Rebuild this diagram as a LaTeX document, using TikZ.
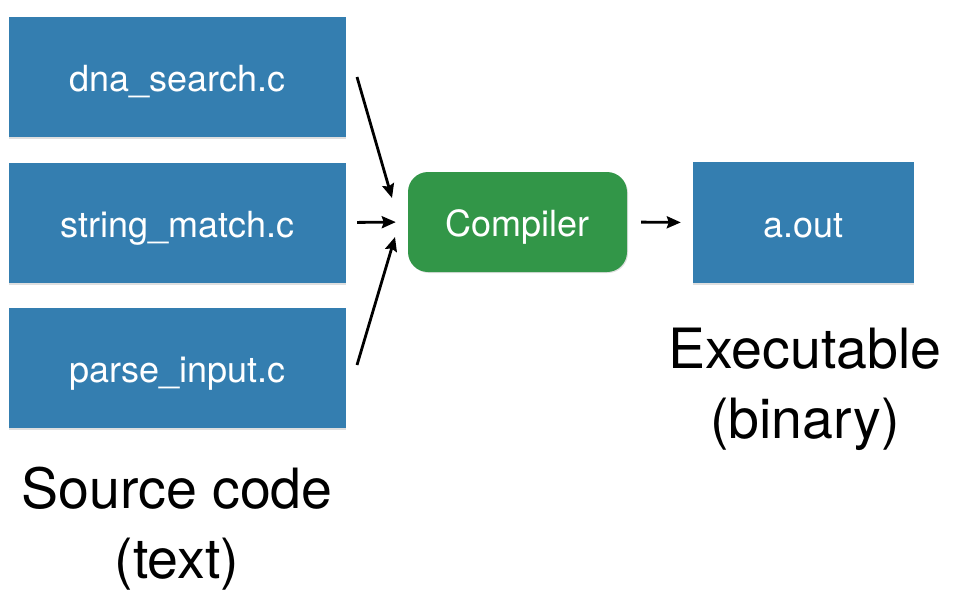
\documentclass[tikz,border=0pt]{standalone}
\usepackage{fontspec}
\setmainfont{TeX Gyre Heros}
\usetikzlibrary{arrows.meta,shadows}
\definecolor{boxblue}{RGB}{52,126,176}
\definecolor{boxgreen}{RGB}{50,150,72}
\begin{document}
\begin{tikzpicture}[x=1pt,y=-1pt,
  filebox/.style={rectangle, fill=boxblue, minimum width=337pt, minimum height=120pt,
    inner sep=0pt, text=white, font=\fontsize{36}{42}\selectfont,
    text height=29pt, text depth=0pt,
    drop shadow={opacity=0.25, shadow xshift=0pt, shadow yshift=-2pt}},
  compbox/.style={rectangle, rounded corners=20pt, fill=boxgreen, minimum width=219pt,
    minimum height=100pt, inner sep=0pt, text=white, font=\fontsize{36}{42}\selectfont,
    text height=28pt, text depth=0pt,
    drop shadow={opacity=0.25, shadow xshift=1pt, shadow yshift=-1pt}},
  caption/.style={align=center, font=\fontsize{55.5}{70}\selectfont, inner sep=0pt},
  flow/.style={line width=2.8pt, -{Stealth[length=14pt,width=12pt,inset=2pt]}}
]
\useasboundingbox (0,0) rectangle (960,608);
\node[filebox] (src1) at (177.5,77) {dna\_search.c};
\node[filebox] (src2) at (177.5,222.5) {string\_match.c};
\node[filebox] (src3) at (177.5,367.5) {parse\_input.c};
\node[compbox] (comp) at (517.5,222) {Compiler};
\node[filebox, minimum width=221pt, minimum height=121pt] (aout) at (803.5,222.5) {a.out};

\node[caption, anchor=base] (srccap) at (177,578) {Source code\\(text)};
\node[caption, anchor=base] (execap) at (805,438) {Executable\\(binary)};

\coordinate (s1) at (357,77);
\coordinate (e1) at (392,198);
\coordinate (s3) at (357,365);
\coordinate (e3) at (395,237);
\draw[flow] (s1) -- (e1);
\draw[flow, shorten <=11pt, shorten >=12pt] (src2.east) -- (comp.west);
\draw[flow] (s3) -- (e3);
\draw[flow, shorten <=14pt, shorten >=12pt] (comp.east) -- (aout.west);
\end{tikzpicture}
\end{document}
